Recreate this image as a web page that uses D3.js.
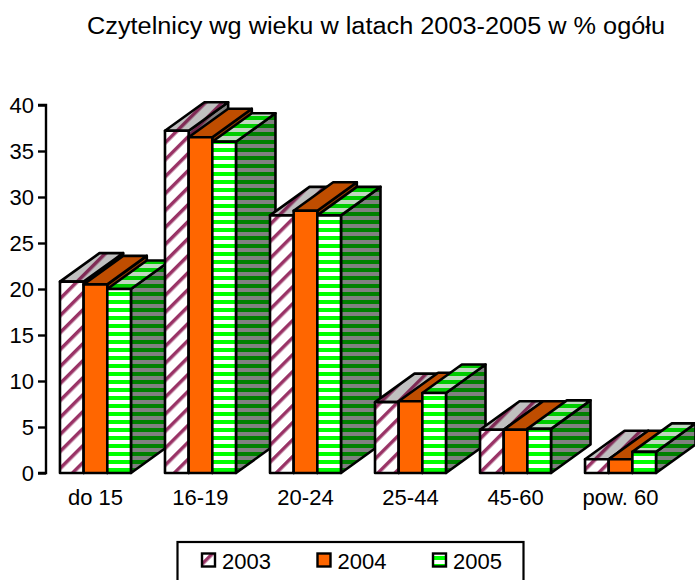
<!DOCTYPE html>
<html>
<head>
<meta charset="utf-8">
<script src="https://cdn.jsdelivr.net/npm/d3@7"></script>
<style>
html, body {margin:0; padding:0; background:#fff; overflow:hidden;}
text {font-family:"Liberation Sans", Arial, sans-serif; fill:#000;}
</style>
</head>
<body>
<div id="chart"></div>
<script>
const svgWidth = 695;
const svgHeight = 580;

const titleText = "Czytelnicy wg wieku w latach 2003-2005 w % ogółu";
const categories = ["do 15","16-19","20-24","25-44","45-60","pow. 60"];
const seriesNames = ["2003","2004","2005"];
const values2003 = [20.8,37.2,28,7.7,4.7,1.5];
const values2004 = [20.5,36.5,28.5,7.8,4.7,1.5];
const values2005 = [20,36,28,8.7,4.8,2.3];
const yTicks = [0,5,10,15,20,25,30,35,40];

const seriesValues = [values2003,values2004,values2005];

// depth of the fake 3d bars
const depthX = 39.5;
const depthY = 28.5;

document.addEventListener("DOMContentLoaded", function(event){
    drawChart();
});

function drawChart(){

    const svg = d3.select("#chart")
                    .append("svg")
                    .attr("width", svgWidth)
                    .attr("height", svgHeight)
                    .style("display","block");

    const defs = svg.append("defs");

    function stripes(id, size, bg, fg, stripe, angle){
        const p = defs.append("pattern")
            .attr("id", id)
            .attr("patternUnits","userSpaceOnUse")
            .attr("width", size)
            .attr("height", size);
        if(angle) p.attr("patternTransform","rotate("+angle+")");
        p.append("rect").attr("width",size).attr("height",size).attr("fill",bg);
        p.append("rect").attr("width",size).attr("height",stripe).attr("fill",fg);
    }

    //front, top and side fill of every series
    stripes("p0front",12,"#ffffff","#993366",3.5,-45);
    stripes("p0top",12,"#c0c0c0","#7f2a55",3.5,-45);
    stripes("p0side",12,"#808080","#6b2347",3.5,-45);
    stripes("p2front",8,"#00ff00","#ffffff",4,0);
    stripes("p2top",8,"#00cc00","#c0d8c0",4,0);
    stripes("p2side",8,"#008000","#808080",4,0);

    const fills = [
        {front:"url(#p0front)", top:"url(#p0top)", side:"url(#p0side)"},
        {front:"#ff6600", top:"#bf4d00", side:"#8f3a00"},
        {front:"url(#p2front)", top:"url(#p2top)", side:"url(#p2side)"}
    ];

    const xscale = d3.scaleBand()
                        .domain(categories)
                        .range([46,670])
                        .paddingInner(0.324)
                        .paddingOuter(0.133);

    const barscale = d3.scaleBand()
                        .domain(seriesNames)
                        .range([0,xscale.bandwidth()]);

    const yscale = d3.scaleLinear()
                        .domain([0,40])
                        .range([473,105]);

    //Bars, left to right so each one hides the side of the previous
    categories.forEach(function(cat,i){
        seriesNames.forEach(function(name,s){
            const x0 = xscale(cat) + barscale(name);
            const x1 = x0 + barscale.bandwidth();
            const y0 = yscale(0);
            const y1 = yscale(seriesValues[s][i]);
            const g = svg.append("g")
                            .attr("stroke","#000")
                            .attr("stroke-width",2.6)
                            .attr("stroke-linejoin","round");
            g.append("path")
                .attr("fill",fills[s].side)
                .attr("d","M"+x1+","+y0+"L"+(x1+depthX)+","+(y0-depthY)+"L"+(x1+depthX)+","+(y1-depthY)+"L"+x1+","+y1+"Z");
            g.append("path")
                .attr("fill",fills[s].top)
                .attr("d","M"+x0+","+y1+"L"+(x0+depthX)+","+(y1-depthY)+"L"+(x1+depthX)+","+(y1-depthY)+"L"+x1+","+y1+"Z");
            g.append("rect")
                .attr("x",x0)
                .attr("y",y1)
                .attr("width",x1-x0)
                .attr("height",y0-y1)
                .attr("fill",fills[s].front);
        });
    });

    //Axes
    const yaxis = d3.axisLeft(yscale).tickValues(yTicks).tickSize(8).tickPadding(4);
    const yg = svg.append("g").attr("transform","translate(46,0)").call(yaxis);
    yg.selectAll("path,line").attr("stroke","#000").attr("stroke-width",2.4);
    yg.select(".domain").attr("d","M-8,"+yscale(40)+"H0V"+yscale(0)+"H-8");
    yg.selectAll("text").style("font-size","22px").style("font-family","'Liberation Sans'");

    const xaxis = d3.axisBottom(xscale).tickSize(0).tickPadding(16);
    const xg = svg.append("g").attr("transform","translate(0,"+yscale(0)+")").call(xaxis);
    xg.select(".domain").remove();
    xg.selectAll("text").style("font-size","22px").style("font-family","'Liberation Sans'");

    //Title
    svg.append("text")
        .attr("x",87)
        .attr("y",34)
        .attr("textLength",578)
        .attr("lengthAdjust","spacingAndGlyphs")
        .style("font-size","23.5px")
        .text(titleText);

    //Legend
    svg.append("rect")
        .attr("x",177.5)
        .attr("y",542)
        .attr("width",346)
        .attr("height",42)
        .attr("fill","#fff")
        .attr("stroke","#000")
        .attr("stroke-width",2.2);

    const legendx = d3.scalePoint().domain(seriesNames).range([202,433]);
    seriesNames.forEach(function(name,s){
        svg.append("rect")
            .attr("x",legendx(name))
            .attr("y",553.5)
            .attr("width",13)
            .attr("height",13)
            .attr("fill",fills[s].front)
            .attr("stroke","#000")
            .attr("stroke-width",2.4);
        svg.append("text")
            .attr("x",legendx(name)+20)
            .attr("y",569)
            .style("font-size","22px")
            .text(name);
    });
}
</script>
</body>
</html>
